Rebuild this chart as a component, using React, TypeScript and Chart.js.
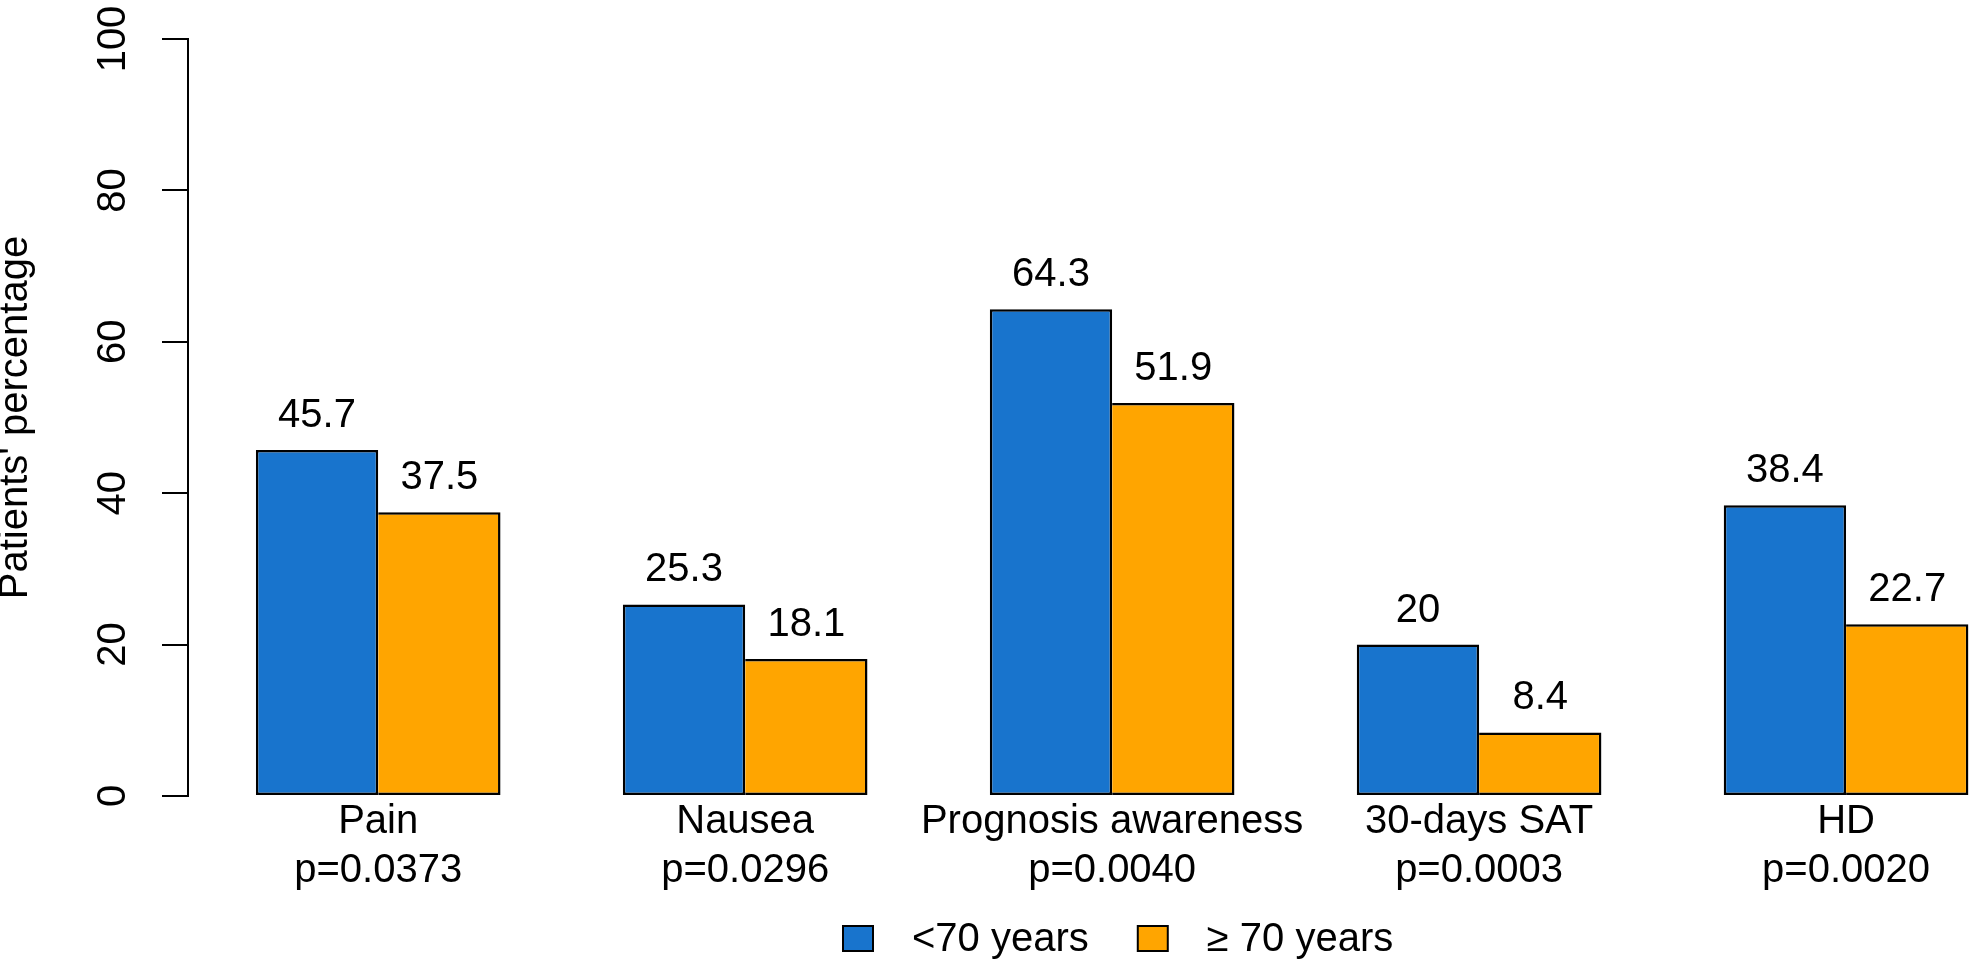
import React, { useEffect, useRef } from 'react';
import { Chart, registerables } from 'chart.js';

Chart.register(...registerables);

const categories = ['Pain', 'Nausea', 'Prognosis awareness', '30-days SAT', 'HD'];
const pValues = ['p=0.0373', 'p=0.0296', 'p=0.0040', 'p=0.0003', 'p=0.0020'];
const under70 = [45.7, 25.3, 64.3, 20, 38.4];
const over70 = [37.5, 18.1, 51.9, 8.4, 22.7];
const seriesLabels = ['<70 years', '≥ 70 years'];

const FONT_FAMILY = '"Liberation Sans", Arial, sans-serif';
const BLUE = '#1874CD';
const ORANGE = '#FFA500';

// R barplot style: each group is 2 bars wide with 1 bar of space in front
const groupX = (i: number) => 3 * i + 2;

const valueLabels = {
  id: 'valueLabels',
  afterDatasetsDraw(chart: any) {
    const ctx = chart.ctx;
    ctx.save();
    ctx.font = `40px ${FONT_FAMILY}`;
    ctx.fillStyle = '#000';
    ctx.textAlign = 'center';
    ctx.textBaseline = 'alphabetic';
    chart.data.datasets.forEach((ds: any, d: number) => {
      const meta = chart.getDatasetMeta(d);
      meta.data.forEach((bar: any, i: number) => {
        ctx.fillText(String(ds.data[i].y), bar.x, bar.y - 23);
      });
    });
    ctx.restore();
  },
};

const bottomLegend = {
  id: 'bottomLegend',
  afterDraw(chart: any) {
    const ctx = chart.ctx;
    ctx.save();
    ctx.font = `40px ${FONT_FAMILY}`;
    ctx.textAlign = 'left';
    ctx.textBaseline = 'alphabetic';
    let x = 843;
    chart.data.datasets.forEach((ds: any) => {
      ctx.fillStyle = ds.backgroundColor;
      ctx.fillRect(x, 926, 30, 25);
      ctx.strokeStyle = '#000';
      ctx.lineWidth = 2;
      ctx.strokeRect(x, 926, 30, 25);
      ctx.fillStyle = '#000';
      ctx.fillText(ds.label, x + 69, 951);
      x += 69 + ctx.measureText(ds.label).width + 49;
    });
    ctx.restore();
  },
};

const App = () => {
  const canvasRef = useRef<HTMLCanvasElement>(null);
  const chartRef = useRef<any>(null);

  useEffect(() => {
    if (!canvasRef.current) return;

    const data = {
      datasets: [
        {
          label: seriesLabels[0],
          data: under70.map((v, i) => ({ x: groupX(i), y: v })),
          backgroundColor: BLUE,
          borderColor: '#000',
          borderWidth: 2.5,
          borderSkipped: false,
        },
        {
          label: seriesLabels[1],
          data: over70.map((v, i) => ({ x: groupX(i), y: v })),
          backgroundColor: ORANGE,
          borderColor: '#000',
          borderWidth: 2.5,
          borderSkipped: 'left',
        },
      ],
    };

    const config: any = {
      type: 'bar',
      data,
      options: {
        responsive: false,
        animation: false,
        categoryPercentage: 2 / 3,
        barPercentage: 1,
        layout: { padding: { top: 33, right: 0, left: 0, bottom: 0 } },
        plugins: {
          legend: { display: false },
          tooltip: { enabled: false },
        },
        scales: {
          x: {
            type: 'linear',
            min: 0.445,
            max: 15.005,
            offset: false,
            bounds: 'data',
            grid: { display: false, drawTicks: false },
            border: { display: false },
            afterBuildTicks: (scale: any) => {
              scale.ticks = categories.map((_, i) => ({ value: groupX(i) }));
            },
            afterFit: (scale: any) => {
              scale.height = 166;
            },
            ticks: {
              autoSkip: false,
              maxRotation: 0,
              padding: 1,
              color: '#000',
              font: { family: FONT_FAMILY, size: 40, lineHeight: 1.225 },
              callback: (_v: any, i: number) => [categories[i], pValues[i]],
            },
          },
          y: {
            min: 0,
            max: 100,
            ticks: {
              stepSize: 20,
              minRotation: 90,
              maxRotation: 90,
              crossAlign: 'center',
              padding: 15,
              color: '#000',
              font: { family: FONT_FAMILY, size: 40 },
            },
            grid: {
              drawOnChartArea: false,
              drawTicks: true,
              tickLength: 26,
              color: '#000',
              lineWidth: 2,
            },
            border: { display: true, color: '#000', width: 2 },
            title: {
              display: true,
              text: "Patients' percentage",
              color: '#000',
              padding: 0,
              font: { family: FONT_FAMILY, size: 40, lineHeight: 0.8 },
            },
            afterFit: (scale: any) => {
              scale.width = 188;
            },
          },
        },
      },
      plugins: [valueLabels, bottomLegend],
    };

    if (chartRef.current) chartRef.current.destroy();
    chartRef.current = new Chart(canvasRef.current, config);

    return () => {
      if (chartRef.current) {
        chartRef.current.destroy();
        chartRef.current = null;
      }
    };
  }, []);

  return (
    <div style={{ position: 'absolute', left: 0, top: 0, width: 1969, height: 962, background: '#fff' }}>
      <canvas ref={canvasRef} width={1969} height={962} />
    </div>
  );
};

export default App;
